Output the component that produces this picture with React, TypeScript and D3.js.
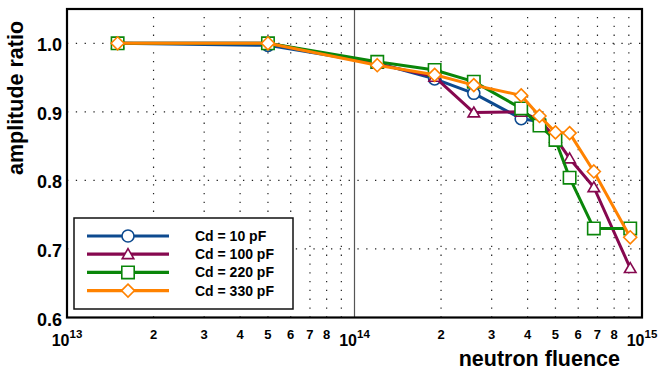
import React from "react";
import * as d3 from "d3";

// neutron fluence values (shared x positions)
const fluence = [1.5e13, 5e13, 1.2e14, 1.9e14, 2.6e14, 3.8e14, 4.4e14, 5e14, 5.6e14, 6.8e14, 9.1e14];

const cd10 = [1.0, 0.997, 0.971, 0.948, 0.927, 0.89, 0.886];
const cd100 = [1.0, 1.0, 0.97, 0.951, 0.899, 0.9, 0.888, 0.862, 0.832, 0.79, 0.672];
const cd220 = [1.0, 1.0, 0.973, 0.961, 0.944, 0.905, 0.88, 0.859, 0.804, 0.73, 0.73];
const cd330 = [1.0, 1.0, 0.968, 0.954, 0.939, 0.924, 0.894, 0.87, 0.869, 0.813, 0.717];

const seriesNames = ["Cd = 10 pF", "Cd = 100 pF", "Cd = 220 pF", "Cd = 330 pF"];
const yTicks = [0.6, 0.7, 0.8, 0.9, 1.0];
const minorLabels = [2, 3, 4, 5, 6, 7, 8];
const decades = [13, 14, 15];

const W = 659;
const H = 371;
const margin = { top: 9, right: 17, bottom: 53.5, left: 67 };
const font = "'Liberation Sans', Arial, Helvetica, sans-serif";

const series = [
  { name: seriesNames[0], values: cd10, color: "#0d4a8f", marker: "circle" },
  { name: seriesNames[1], values: cd100, color: "#86084f", marker: "triangle" },
  { name: seriesNames[2], values: cd220, color: "#0a860a", marker: "square" },
  { name: seriesNames[3], values: cd330, color: "#ff8200", marker: "diamond" },
];

function markerPath(type: string, x: number, y: number) {
  if (type === "circle") {
    const r = 6;
    return `M${x - r},${y}a${r},${r} 0 1,0 ${2 * r},0a${r},${r} 0 1,0 ${-2 * r},0Z`;
  }
  if (type === "square") {
    const s = 6.2;
    return `M${x - s},${y - s}H${x + s}V${y + s}H${x - s}Z`;
  }
  if (type === "diamond") {
    const s = 6.5;
    return `M${x},${y - s}L${x + s},${y}L${x},${y + s}L${x - s},${y}Z`;
  }
  // triangle
  const s = 5.5;
  return `M${x},${y - s}L${x + s * 1.05},${y + s * 0.8}L${x - s * 1.05},${y + s * 0.8}Z`;
}

export default function App() {
  const x = d3.scaleLog().domain([1e13, 1e15]).range([margin.left, W - margin.right]);
  const y = d3.scaleLinear().domain([0.6, 1.05]).range([H - margin.bottom, margin.top]);

  const line = d3
    .line<[number, number]>()
    .x((d) => x(d[0]))
    .y((d) => y(d[1]));

  const minorTicks: number[] = [];
  [1e13, 1e14].forEach((base) => {
    for (let k = 2; k <= 9; k++) minorTicks.push(k * base);
  });

  const [x0, x1] = x.range();
  const [y0, y1] = y.range();

  const legend = { x: 74, y: 218, w: 219, h: 91 };

  return (
    <svg
      width={W}
      height={H}
      style={{ position: "absolute", left: 0, top: 0, background: "#fff" }}
      fontFamily={font}
      fontWeight="bold"
    >
      <rect width={W} height={H} fill="#fff" />
      {/* grid */}
      {yTicks.slice(1).map((t) => (
        <line key={"h" + t} x1={x0} x2={x1} y1={y(t)} y2={y(t)} stroke="#222" strokeWidth={1.2} strokeDasharray="1.3,7.5" />
      ))}
      {minorTicks.map((t) => (
        <line key={"v" + t} x1={x(t)} x2={x(t)} y1={y0} y2={y1} stroke="#222" strokeWidth={1.2} strokeDasharray="1.3,7.5" />
      ))}
      <line x1={x(1e14)} x2={x(1e14)} y1={y0} y2={y1} stroke="#555" strokeWidth={1.2} />

      {/* series */}
      {series.map((s) => {
        const pts: [number, number][] = s.values.map((v, i) => [fluence[i], v]);
        return (
          <g key={s.name}>
            <path d={line(pts) || ""} fill="none" stroke={s.color} strokeWidth={3} strokeLinejoin="round" />
            {pts.map((p, i) => (
              <path key={i} d={markerPath(s.marker, x(p[0]), y(p[1]))} fill="#fff" stroke={s.color} strokeWidth={1.6} />
            ))}
          </g>
        );
      })}

      {/* frame */}
      <rect x={x0} y={y1} width={x1 - x0} height={y0 - y1} fill="none" stroke="#000" strokeWidth={2.2} />

      {/* y tick labels */}
      {yTicks.map((t) => (
        <text key={"yl" + t} x={62} y={y(t) + 8} textAnchor="end" fontSize={18}>
          {t.toFixed(1)}
        </text>
      ))}

      {/* x tick labels */}
      {[1e13, 1e14].map((base) =>
        minorLabels.map((k) => (
          <text key={"xl" + k * base} x={x(k * base)} y={338.5} textAnchor="middle" fontSize={13}>
            {k}
          </text>
        ))
      )}
      {decades.map((p) => (
        <text key={"d" + p} x={x(Math.pow(10, p))} y={346} textAnchor="middle" fontSize={16}>
          10
          <tspan dy={-8.5} fontSize={11.5}>
            {p}
          </tspan>
        </text>
      ))}

      {/* axis titles */}
      <text x={620} y={366} textAnchor="end" fontSize={21.5}>
        neutron fluence
      </text>
      <text transform="translate(23,98) rotate(-90)" textAnchor="middle" fontSize={21.5}>
        amplitude ratio
      </text>

      {/* legend */}
      <rect x={legend.x} y={legend.y} width={legend.w} height={legend.h} fill="#fff" stroke="#111" strokeWidth={1.5} />
      {series.map((s, i) => {
        const ly = 236 + i * 18.2;
        return (
          <g key={"lg" + s.name}>
            <line x1={87} x2={169} y1={ly} y2={ly} stroke={s.color} strokeWidth={3.2} />
            <path d={markerPath(s.marker, 128, ly)} fill="#fff" stroke={s.color} strokeWidth={1.6} />
            <text x={195} y={ly + 5} fontSize={14}>
              {s.name}
            </text>
          </g>
        );
      })}
    </svg>
  );
}
